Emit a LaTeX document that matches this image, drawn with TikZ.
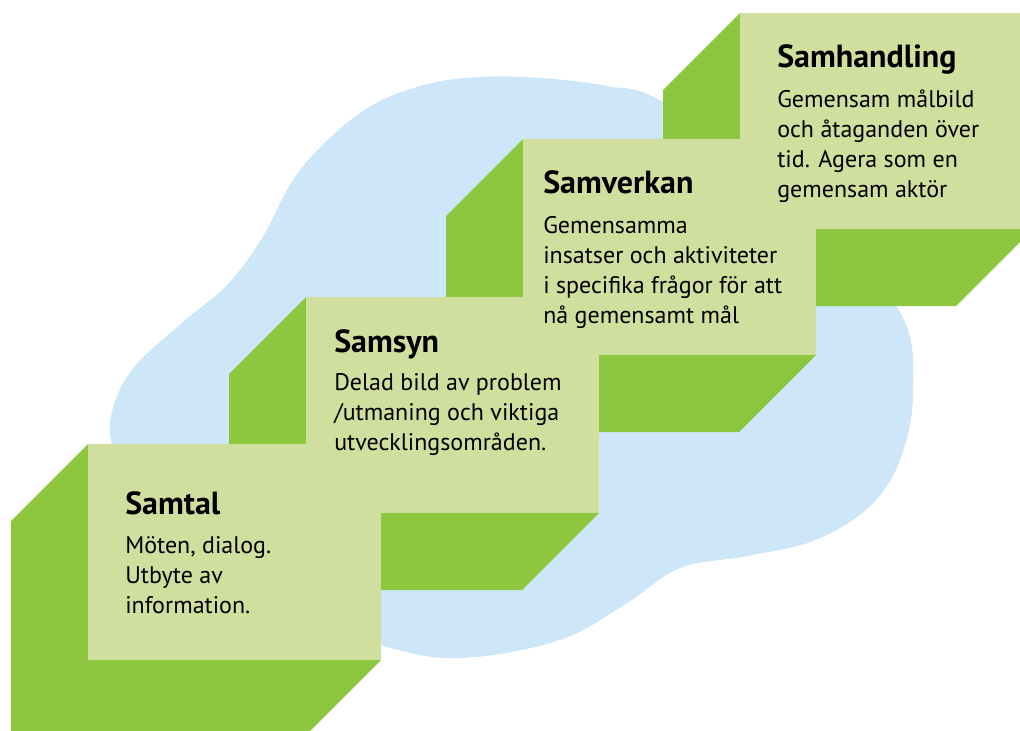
\documentclass[tikz,border=0pt]{standalone}
\usepackage{fontspec}
\setmainfont{PT Sans}
\usepackage{tikz}
\usepackage{xcolor}
\definecolor{stepface}{HTML}{D1DF9E}
\definecolor{stepside}{HTML}{8DC63F}
\definecolor{cloudblue}{HTML}{CDE7F8}
\tikzstyle{face} = [rectangle, fill=stepface, anchor=north west, inner sep=0pt, minimum width=219.75pt, minimum height=162pt]
\tikzstyle{side} = [fill=stepside]
\tikzstyle{title} = [anchor=base west, inner sep=0pt, font=\fontsize{24}{28}\selectfont\bfseries]
\tikzstyle{body} = [anchor=base west, inner sep=0pt, align=left, font=\fontsize{18}{22.5}\selectfont]

\begin{document}
\begin{tikzpicture}[x=0.75pt,y=-0.75pt]
  \useasboundingbox (0,0) rectangle (1020,731);
  \clip (0,0) rectangle (1020,731);

  % the blue cloud behind the steps
  \fill[cloudblue] plot[smooth cycle, tension=0.6] coordinates {
    (112,445) (114,405) (135,366) (183,322) (228,284) (262,238) (300,170)
    (360,113) (420,86) (480,77) (540,78) (607,86) (663,102) (790,190)
    (897,307) (913,390) (900,460) (868,508) (813,541) (747,556) (680,568)
    (627,603) (560,640) (460,658) (380,645) (250,600) (140,520)};

  \coordinate (c4) at (740,13);
  \coordinate (c3) at (523,139);
  \coordinate (c2) at (306,297);
  \coordinate (c1) at (88,444);

  % the steps, back to front
  \fill[side] (c4) -- ++(-77,77) -- ++(0,216) -- ++(293,0) -- ++(77,-77) -- cycle;
  \node[face] (samhandling) at (c4) {};
  \fill[side] (c3) -- ++(-77,77) -- ++(0,216) -- ++(293,0) -- ++(77,-77) -- cycle;
  \node[face] (samverkan) at (c3) {};
  \fill[side] (c2) -- ++(-77,77) -- ++(0,216) -- ++(293,0) -- ++(77,-77) -- cycle;
  \node[face] (samsyn) at (c2) {};
  \fill[side] (c1) -- ++(-77,77) -- ++(0,216) -- ++(293,0) -- ++(77,-77) -- cycle;
  \node[face] (samtal) at (c1) {};

  % texts
  \node[title] (samhandling-title) at ([shift={(37,55)}]c4) {Samhandling};
  \node[body] (samhandling-text) at ([shift={(0,129)}]samhandling-title.base west)
    {Gemensam målbild\\och åtaganden över\\tid. Agera som en\\gemensam aktör};

  \node[title] (samverkan-title) at ([shift={(20,55)}]c3) {Samverkan};
  \node[body] (samverkan-text) at ([shift={(0,129)}]samverkan-title.base west)
    {Gemensamma\\insatser och aktiviteter\\i specifika frågor för att\\nå gemensamt mål};

  \node[title] (samsyn-title) at ([shift={(28,55)}]c2) {Samsyn};
  \node[body] (samsyn-text) at ([shift={(0,98)}]samsyn-title.base west)
    {Delad bild av problem\\/utmaning och viktiga\\utvecklingsområden.};

  \node[title] (samtal-title) at ([shift={(37,70)}]c1) {Samtal};
  \node[body] (samtal-text) at ([shift={(0,99)}]samtal-title.base west)
    {Möten, dialog.\\Utbyte av\\information.};
\end{tikzpicture}
\end{document}
